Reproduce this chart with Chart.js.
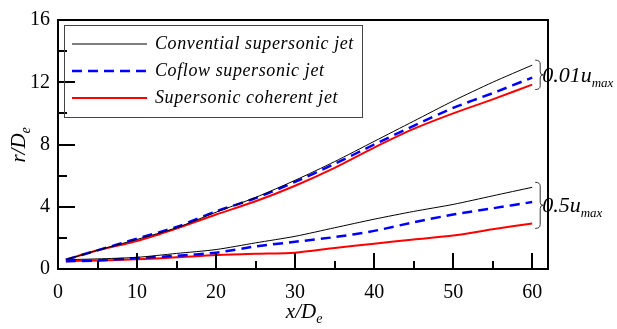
<!DOCTYPE html>
<html>
<head>
<meta charset="utf-8">
<script src="https://cdn.jsdelivr.net/npm/chart.js@4.4.0/dist/chart.umd.min.js"></script>
<style>
  html, body { margin: 0; padding: 0; background: #fff; }
  #wrap { width: 617px; height: 329px; }
</style>
</head>
<body>
<div id="wrap"><canvas id="jetChart" width="617" height="329"></canvas></div>
<script>
// x/De stations
const xPos = [1, 5, 10, 15, 20, 25, 30, 35, 40, 45, 50, 55, 60];

// 0.01 umax boundary
const convOuter   = [0.6, 1.2, 1.9, 2.65, 3.65, 4.6, 5.7, 6.9, 8.2, 9.5, 10.8, 12.0, 13.1];
const coflowOuter = [0.6, 1.2, 1.95, 2.7, 3.7, 4.55, 5.6, 6.75, 8.0, 9.2, 10.35, 11.3, 12.3];
const coherOuter  = [0.6, 1.2, 1.8, 2.6, 3.5, 4.35, 5.35, 6.5, 7.8, 9.0, 10.0, 10.9, 11.85];

// 0.5 umax boundary
const convInner   = [0.6, 0.65, 0.75, 1.0, 1.25, 1.68, 2.1, 2.65, 3.2, 3.7, 4.15, 4.7, 5.25];
const coflowInner = [0.5, 0.55, 0.7, 0.85, 1.05, 1.45, 1.75, 2.05, 2.45, 3.0, 3.5, 3.9, 4.3];
const coherInner  = [0.5, 0.55, 0.62, 0.75, 0.9, 0.98, 1.05, 1.35, 1.63, 1.9, 2.15, 2.55, 2.93];

const seriesNames = ['Convential supersonic jet', 'Coflow supersonic jet', 'Supersonic coherent jet'];
const groupLabels = ['0.01', '0.5'];

const xTicks = [0, 10, 20, 30, 40, 50, 60];
const yTicks = [0, 4, 8, 12, 16];

const SERIF = '"Liberation Serif", "Times New Roman", serif';

const pts = ys => ys.map((y, i) => ({ x: xPos[i], y: y }));

const styles = [
  { borderColor: '#000000', borderWidth: 1, borderDash: [] },
  { borderColor: '#0000ff', borderWidth: 2.5, borderDash: [10, 6] },
  { borderColor: '#ff0000', borderWidth: 2, borderDash: [] }
];

const outer = [convOuter, coflowOuter, coherOuter];
const inner = [convInner, coflowInner, coherInner];

const datasets = [];
outer.forEach((ys, i) => datasets.push(Object.assign({ label: seriesNames[i], data: pts(ys), group: 0 }, styles[i])));
inner.forEach((ys, i) => datasets.push(Object.assign({ label: seriesNames[i], data: pts(ys), group: 1 }, styles[i])));

function drawBrace(ctx, x, y1, y2) {
  const m = (y1 + y2) / 2;
  const w = 5;
  ctx.beginPath();
  ctx.moveTo(x, y1);
  ctx.quadraticCurveTo(x + w, y1, x + w, y1 + 4);
  ctx.lineTo(x + w, m - 3);
  ctx.quadraticCurveTo(x + w, m, x + w + 3, m);
  ctx.quadraticCurveTo(x + w, m, x + w, m + 3);
  ctx.lineTo(x + w, y2 - 4);
  ctx.quadraticCurveTo(x + w, y2, x, y2);
  ctx.stroke();
}

// text with italic subscript
function subText(ctx, main, sub, x, y, size, subSize, drop) {
  ctx.font = 'italic ' + size + 'px ' + SERIF;
  ctx.fillText(main, x, y);
  const w = ctx.measureText(main).width;
  ctx.font = 'italic ' + subSize + 'px ' + SERIF;
  ctx.fillText(sub, x + w, y + drop);
  return w + ctx.measureText(sub).width;
}

const decor = {
  id: 'decor',
  afterDraw(chart) {
    const ctx = chart.ctx;
    const a = chart.chartArea;
    const xs = chart.scales.x, ys = chart.scales.y;
    ctx.save();
    ctx.strokeStyle = '#000';
    ctx.fillStyle = '#000';

    // frame
    ctx.lineWidth = 2;
    ctx.strokeRect(a.left, a.top, a.right - a.left, a.bottom - a.top);

    // inward ticks
    ctx.lineWidth = 2;
    for (let v = 0; v <= 60; v += 5) {
      const px = Math.round(xs.getPixelForValue(v));
      const len = v % 10 === 0 ? 16 : 8;
      ctx.beginPath();
      ctx.moveTo(px, a.bottom);
      ctx.lineTo(px, a.bottom - len);
      ctx.stroke();
    }
    for (let v = 0; v <= 16; v += 2) {
      const py = Math.round(ys.getPixelForValue(v));
      const len = v % 4 === 0 ? 17 : 9;
      ctx.beginPath();
      ctx.moveTo(a.left, py);
      ctx.lineTo(a.left + len, py);
      ctx.stroke();
    }

    // legend box
    const lx = a.left + 6, ly = a.top + 5, lw = 298, lh = 92;
    ctx.lineWidth = 1;
    ctx.strokeStyle = '#444';
    ctx.strokeRect(lx + 0.5, ly + 0.5, lw, lh);
    ctx.textBaseline = 'middle';
    ctx.textAlign = 'left';
    ctx.font = 'italic 18px ' + SERIF;
    ctx.letterSpacing = '0.6px';
    for (let i = 0; i < 3; i++) {
      const ds = chart.data.datasets[i];
      const yy = ly + 19 + i * 27;
      ctx.strokeStyle = ds.borderColor;
      ctx.lineWidth = ds.borderWidth;
      ctx.setLineDash(ds.borderDash);
      ctx.beginPath();
      ctx.moveTo(lx + 8, yy);
      ctx.lineTo(lx + 83, yy);
      ctx.stroke();
      ctx.setLineDash([]);
      ctx.fillStyle = '#000';
      ctx.fillText(ds.label, lx + 91, yy);
    }
    ctx.letterSpacing = '0px';

    // braces + group labels
    ctx.strokeStyle = '#333';
    ctx.lineWidth = 1;
    ctx.textBaseline = 'alphabetic';
    ctx.fillStyle = '#000';
    [0, 1].forEach(g => {
      const vals = chart.data.datasets.filter(d => d.group === g).map(d => d.data[d.data.length - 1].y);
      const top = ys.getPixelForValue(Math.max(...vals)) - 5;
      const bot = ys.getPixelForValue(Math.min(...vals)) + 5;
      const bx = xs.getPixelForValue(60) + 3;
      drawBrace(ctx, bx, top, bot);
      const mid = (top + bot) / 2;
      subText(ctx, groupLabels[g] + 'u', 'max', bx + 7, mid + 7, 22, 13, 5);
    });

    // axis titles
    ctx.textAlign = 'left';
    const xt = 'x/D';
    ctx.font = 'italic 21px ' + SERIF;
    const xw = ctx.measureText(xt).width;
    subText(ctx, xt, 'e', (a.left + a.right) / 2 - xw / 2 - 2, 318, 21, 14, 5);

    ctx.save();
    ctx.translate(25, 146);
    ctx.rotate(-Math.PI / 2);
    const yt = 'r/D';
    ctx.font = 'italic 21px ' + SERIF;
    const yw = ctx.measureText(yt).width;
    subText(ctx, yt, 'e', -yw / 2 - 2, 0, 21, 14, 5);
    ctx.restore();

    ctx.restore();
  }
};

new Chart(document.getElementById('jetChart'), {
  type: 'line',
  data: { datasets: datasets },
  options: {
    responsive: false,
    animation: false,
    events: [],
    elements: { point: { radius: 0 }, line: { tension: 0.25, fill: false } },
    layout: { padding: { top: 12, right: 69, left: 0, bottom: 0 } },
    plugins: { legend: { display: false }, tooltip: { enabled: false } },
    scales: {
      x: {
        type: 'linear',
        min: 0,
        max: 62,
        afterFit: s => { s.height = 60; },
        afterBuildTicks: s => { s.ticks = xTicks.map(v => ({ value: v })); },
        grid: { display: false, drawTicks: false },
        border: { display: false },
        ticks: { padding: 12, color: '#000', font: { family: SERIF, size: 20 } }
      },
      y: {
        min: 0,
        max: 16,
        afterFit: s => { s.width = 58; },
        afterBuildTicks: s => { s.ticks = yTicks.map(v => ({ value: v })); },
        grid: { display: false, drawTicks: false },
        border: { display: false },
        ticks: { padding: 8, color: '#000', font: { family: SERIF, size: 20 } }
      }
    }
  },
  plugins: [decor]
});
</script>
</body>
</html>
